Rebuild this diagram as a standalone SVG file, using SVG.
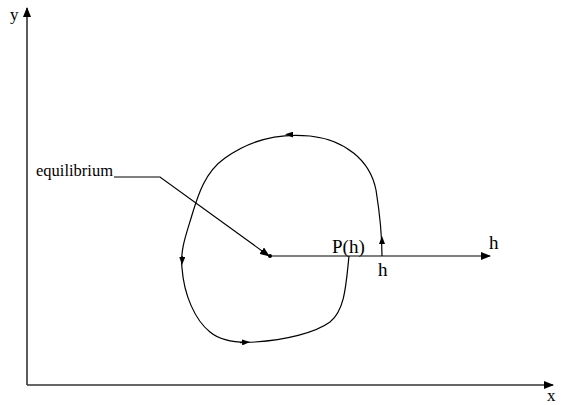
<svg xmlns="http://www.w3.org/2000/svg" width="565" height="405" viewBox="0 0 565 405">
<style>
.axis{stroke:#333;stroke-width:1.6;fill:none}
.ln{stroke:#000;stroke-width:1.2;fill:none}
text{font-family:'Liberation Serif','DejaVu Serif','Times New Roman',serif;fill:#000}
</style>
<defs>
<marker id="ah" markerWidth="10" markerHeight="8" refX="9" refY="4" orient="auto" markerUnits="userSpaceOnUse">
<path d="M0,0 L10,4 L0,8 Z" fill="#000"/>
</marker>
<marker id="as" markerWidth="8" markerHeight="6" refX="4" refY="3" orient="auto" markerUnits="userSpaceOnUse">
<path d="M0,0 L8,3 L0,6 Z" fill="#000"/>
</marker>
</defs>
<rect width="565" height="405" fill="#fff"/>
<g id="axes">
<line class="axis" x1="27" y1="385" x2="27" y2="8" marker-end="url(#ah)"/>
<line class="axis" x1="27" y1="385" x2="553" y2="385" marker-end="url(#ah)"/>
<text x="10" y="20" font-size="17">y</text>
<text x="547" y="401" font-size="17">x</text>
</g>
<g id="equilibrium">
<circle cx="270" cy="256" r="2" fill="#000"/>
<text x="36" y="176" font-size="16.5">equilibrium</text>
</g>
<g id="connectors">
<path class="ln" d="M114,177 L160,177 L269,256" marker-end="url(#ah)"/>
<line class="ln" x1="270" y1="256" x2="490" y2="256" marker-end="url(#ah)"/>
<path id="orbit" class="ln" d="M382,256 C382,240 380,215 376,190 C370,160 345,140 310,136 C280,133 250,140 225,158 C205,172 198,195 192,215 C186,235 180,250 182,268 C184,295 195,320 210,332 C222,342 240,343 255,342 C285,340 315,333 330,322 C345,310 346,285 349,256"/>
<path class="ln" d="M382,244 L382,240" marker-end="url(#as)"/>
<path class="ln" d="M293,134.6 L289,134.4" marker-end="url(#as)"/>
<path class="ln" d="M182.3,256 L182.1,261" marker-end="url(#as)"/>
<path class="ln" d="M240,342.6 L246,342.2" marker-end="url(#as)"/>
</g>
<g id="labels">
<text x="332" y="253" font-size="19">P(h)</text>
<text x="378" y="276" font-size="19">h</text>
<text x="489" y="249" font-size="19">h</text>
</g>
</svg>
